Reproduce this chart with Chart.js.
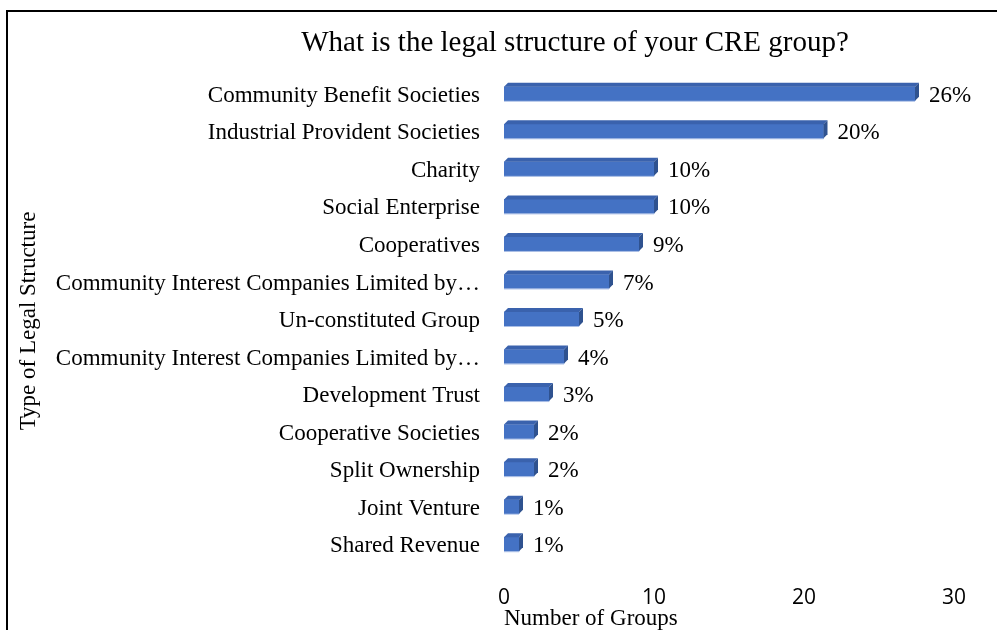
<!DOCTYPE html>
<html>
<head>
<meta charset="utf-8">
<title>Legal structure of CRE groups</title>
<script src="https://cdn.jsdelivr.net/npm/chart.js@4.4.0/dist/chart.umd.min.js"></script>
<style>
    html, body {
        margin: 0;
        padding: 0;
        background: #fff;
    }
    .frame {
        position: absolute;
        left: 6px;
        top: 10px;
        right: 0;
        bottom: 0;
        border-left: 2px solid #000;
        border-top: 2px solid #000;
    }
    .chart-box {
        position: absolute;
        left: 0;
        top: 0;
        width: 997px;
        height: 630px;
    }
</style>
</head>
<body>
<div class="frame"></div>
<div class="chart-box">
    <canvas id="structureChart" width="997" height="630"></canvas>
</div>
<script>
// Survey results: number of groups per legal structure
const structures = [
    'Community Benefit Societies',
    'Industrial Provident Societies',
    'Charity',
    'Social Enterprise',
    'Cooperatives',
    'Community Interest Companies Limited by\u2026',
    'Un-constituted Group',
    'Community Interest Companies Limited by\u2026',
    'Development Trust',
    'Cooperative Societies',
    'Split Ownership',
    'Joint Venture',
    'Shared Revenue'
];
const groupCounts = [27.4, 21.3, 10, 10, 9, 7, 5, 4, 3, 2, 2, 1, 1];
const shareLabels = ['26%', '20%', '10%', '10%', '9%', '7%', '5%', '4%', '3%', '2%', '2%', '1%', '1%'];
const xTicks = [0, 10, 20, 30];

const chartTitle = 'What is the legal structure of your CRE group?';
const serif = '"Liberation Serif", "Times New Roman", serif';

const colors = {
    front: '#4472C4',
    top: '#3A62AD',
    side: '#2F528F',
    edge: '#A9BEE6'
};

// Fake 3D look: a top face and a right face on every bar
const DEPTH = 4;
const BAR_LIFT = -2;

const barDepth = {
    id: 'barDepth',
    beforeDatasetsDraw(chart) {
        chart.ctx.save();
        chart.ctx.translate(0, BAR_LIFT);
    },
    afterDatasetsDraw(chart) {
        const ctx = chart.ctx;
        chart.getDatasetMeta(0).data.forEach((bar) => {
            const { x, y, base, height } = bar.getProps(['x', 'y', 'base', 'height'], true);
            const top = y - height / 2;
            const bottom = y + height / 2;

            ctx.fillStyle = colors.top;
            ctx.beginPath();
            ctx.moveTo(base, top);
            ctx.lineTo(base + DEPTH, top - DEPTH);
            ctx.lineTo(x + DEPTH, top - DEPTH);
            ctx.lineTo(x, top);
            ctx.closePath();
            ctx.fill();

            ctx.fillStyle = colors.side;
            ctx.beginPath();
            ctx.moveTo(x, top);
            ctx.lineTo(x + DEPTH, top - DEPTH);
            ctx.lineTo(x + DEPTH, bottom - DEPTH);
            ctx.lineTo(x, bottom);
            ctx.closePath();
            ctx.fill();

            ctx.strokeStyle = colors.edge;
            ctx.lineWidth = 1;
            ctx.beginPath();
            ctx.moveTo(base, bottom + 0.5);
            ctx.lineTo(x, bottom + 0.5);
            ctx.stroke();
        });
        ctx.restore();
    }
};

// Percentage labels at the end of each bar, plus the chart heading
const barLabels = {
    id: 'barLabels',
    afterDraw(chart) {
        const ctx = chart.ctx;
        ctx.save();
        ctx.font = '23px ' + serif;
        ctx.fillStyle = '#000';
        ctx.textAlign = 'left';
        ctx.textBaseline = 'middle';
        chart.getDatasetMeta(0).data.forEach((bar, i) => {
            ctx.fillText(shareLabels[i], bar.x + DEPTH + 10, bar.y);
        });

        ctx.font = '29px ' + serif;
        ctx.textAlign = 'center';
        ctx.fillText(chartTitle, 575, 43);
        ctx.restore();
    }
};

document.addEventListener('DOMContentLoaded', () => {
    const canvas = document.getElementById('structureChart');

    new Chart(canvas, {
        type: 'bar',
        data: {
            labels: structures,
            datasets: [{
                label: 'Number of Groups',
                data: groupCounts,
                backgroundColor: colors.front,
                borderWidth: 0,
                barThickness: 14
            }]
        },
        options: {
            indexAxis: 'y',
            responsive: false,
            animation: false,
            layout: {
                padding: { top: 77, right: 43, bottom: 0, left: 0 }
            },
            plugins: {
                legend: { display: false },
                tooltip: { enabled: false }
            },
            scales: {
                x: {
                    min: 0,
                    max: 30,
                    afterBuildTicks: (scale) => {
                        scale.ticks = xTicks.map((v) => ({ value: v }));
                    },
                    afterFit: (scale) => {
                        scale.height = 65;
                    },
                    grid: { display: false, drawTicks: false },
                    border: { display: false },
                    ticks: {
                        padding: 23,
                        color: '#000',
                        font: { family: '"Open Sans", sans-serif', size: 21, lineHeight: 1 }
                    },
                    title: {
                        display: true,
                        text: 'Number of Groups',
                        align: 'start',
                        color: '#000',
                        padding: { top: 0, bottom: 0 },
                        font: { family: serif, size: 23, lineHeight: 1 }
                    }
                },
                y: {
                    afterFit: (scale) => {
                        scale.width = 504;
                    },
                    grid: { display: false, drawTicks: false },
                    border: { display: false },
                    ticks: {
                        padding: 24,
                        color: '#000',
                        autoSkip: false,
                        font: { family: serif, size: 23 }
                    },
                    title: {
                        display: true,
                        text: 'Type of Legal Structure',
                        color: '#000',
                        padding: { top: 17, bottom: 0 },
                        font: { family: serif, size: 23, lineHeight: 1 }
                    }
                }
            }
        },
        plugins: [barDepth, barLabels]
    });
});
</script>
</body>
</html>
